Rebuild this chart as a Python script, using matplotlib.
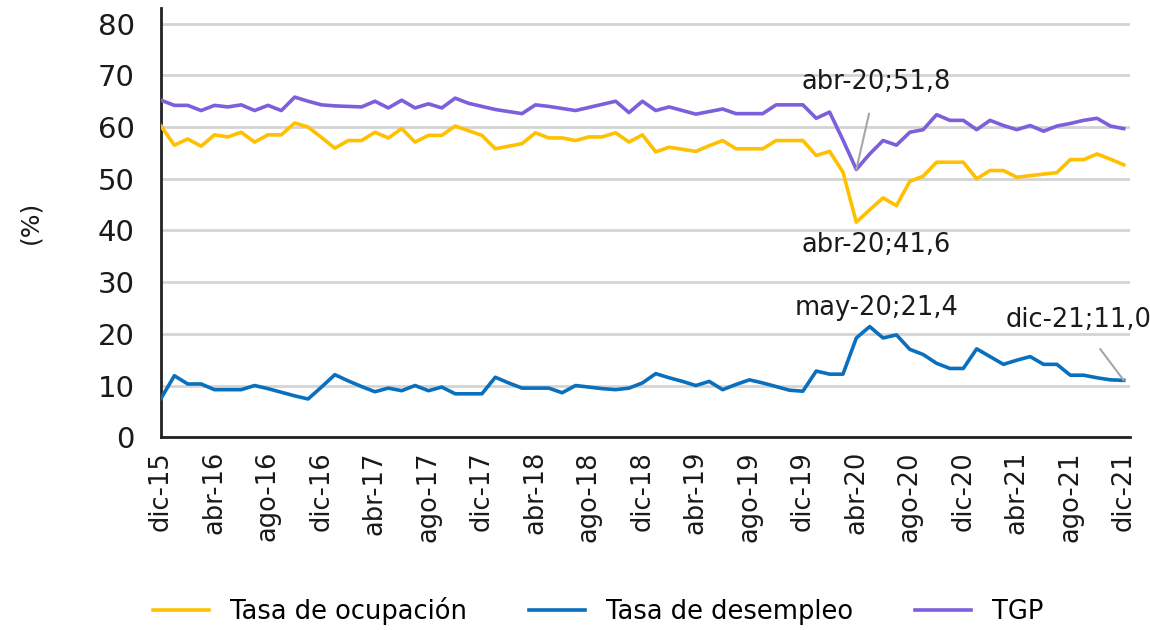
import matplotlib.pyplot as plt

# monthly series, dic-15 .. dic-21
month_names = ['ene', 'feb', 'mar', 'abr', 'may', 'jun',
               'jul', 'ago', 'set', 'oct', 'nov', 'dic']
labels = ['dic-15'] + [f'{m}-{y}' for y in range(16, 22) for m in month_names]

tgp = [65.2, 64.2, 64.2, 63.2, 64.2, 63.9, 64.3, 63.2, 64.2, 63.2,
       65.8, 65.0, 64.3, 64.1, 64.0, 63.9, 65.0, 63.7, 65.2, 63.7,
       64.5, 63.7, 65.6, 64.6, 64.0, 63.4, 63.0, 62.6, 64.3, 64.0,
       63.6, 63.2, 63.8, 64.4, 65.0, 62.8, 65.0, 63.2, 63.9, 63.2,
       62.5, 63.0, 63.5, 62.6, 62.6, 62.6, 64.3, 64.3, 64.3, 61.7,
       62.9, 57.5, 51.8, 54.8, 57.4, 56.5, 59.0, 59.5, 62.4, 61.3,
       61.3, 59.5, 61.3, 60.3, 59.5, 60.3, 59.2, 60.2, 60.7, 61.3,
       61.7, 60.2, 59.7]

ocupacion = [60.2, 56.5, 57.7, 56.3, 58.5, 58.1, 59.0, 57.1, 58.5, 58.5,
             60.8, 60.0, 58.0, 55.9, 57.4, 57.4, 59.0, 57.9, 59.7, 57.1,
             58.4, 58.4, 60.2, 59.3, 58.4, 55.8, 56.3, 56.8, 58.9, 57.9,
             57.9, 57.4, 58.1, 58.1, 58.9, 57.1, 58.5, 55.2, 56.1, 55.7,
             55.3, 56.4, 57.4, 55.8, 55.8, 55.8, 57.4, 57.4, 57.4, 54.5,
             55.3, 51.3, 41.6, 44.0, 46.3, 44.8, 49.5, 50.5, 53.2, 53.2,
             53.2, 50.0, 51.6, 51.6, 50.3, 50.6, 50.9, 51.2, 53.7, 53.7,
             54.8, 53.8, 52.7]

desempleo = [7.5, 11.9, 10.3, 10.3, 9.2, 9.2, 9.2, 10.0, 9.4, 8.7,
             8.0, 7.4, 9.7, 12.1, 10.9, 9.8, 8.8, 9.5, 9.0, 10.0,
             9.0, 9.7, 8.4, 8.4, 8.4, 11.6, 10.5, 9.5, 9.5, 9.5,
             8.6, 10.0, 9.7, 9.4, 9.2, 9.5, 10.5, 12.3, 11.5, 10.8,
             10.0, 10.8, 9.2, 10.2, 11.1, 10.5, 9.8, 9.1, 8.9, 12.8,
             12.2, 12.2, 19.2, 21.4, 19.2, 19.8, 17.0, 16.0, 14.3, 13.3,
             13.3, 17.1, 15.6, 14.1, 14.9, 15.6, 14.1, 14.1, 12.0, 12.0,
             11.5, 11.1, 11.0]

plt.rcParams['font.family'] = ['DejaVu Sans']

fig = plt.figure(figsize=(11.5, 6.3), dpi=100)
ax = fig.add_axes([0.140, 0.306, 0.843, 0.681])

x = list(range(len(labels)))
ax.plot(x, ocupacion, color='#FFC000', lw=2.6, label='Tasa de ocupación', zorder=3)
ax.plot(x, desempleo, color='#0A70BE', lw=2.6, label='Tasa de desempleo', zorder=3)
ax.plot(x, tgp, color='#7B5FDB', lw=2.6, label='TGP', zorder=3)

ax.set_xlim(0, 72.5)
ax.set_ylim(0, 83)
ax.set_yticks(range(0, 81, 10))
ax.set_xticks(x[::4])
ax.set_xticklabels(labels[::4], rotation=90, fontsize=18.5)
ax.tick_params(axis='y', labelsize=21, length=0, pad=19, labelcolor='#1a1a1a')
ax.tick_params(axis='x', length=0, pad=10, labelcolor='#1a1a1a')
ax.yaxis.grid(True, color='#d4d4d4', lw=2)
ax.set_axisbelow(True)
for s in ['top', 'right']:
    ax.spines[s].set_visible(False)
for s in ['left', 'bottom']:
    ax.spines[s].set_linewidth(2)
    ax.spines[s].set_color('#222222')
ax.set_ylabel('(%)', fontsize=18, labelpad=40, color='#1a1a1a')

# annotations
i_abr, i_may, i_end = 52, 53, 72
ax.annotate(f'abr-20;{tgp[i_abr]:.1f}'.replace('.', ','), xy=(i_abr, tgp[i_abr]),
            xytext=(i_abr + 1.5, 68.8), ha='center', va='center', fontsize=18.5,
            color='#1a1a1a',
            arrowprops=dict(arrowstyle='-', color='#a6a6a6', lw=1.5, shrinkA=12, shrinkB=0))
ax.text(i_abr + 1.5, 37.2, f'abr-20;{ocupacion[i_abr]:.1f}'.replace('.', ','),
        ha='center', va='center', fontsize=18.5, color='#1a1a1a')
ax.text(i_abr + 1.5, 25.0, f'may-20;{desempleo[i_may]:.1f}'.replace('.', ','),
        ha='center', va='center', fontsize=18.5, color='#1a1a1a')
ax.annotate(f'dic-21;{desempleo[i_end]:.1f}'.replace('.', ','), xy=(i_end, desempleo[i_end]),
            xytext=(68.6, 22.7), ha='center', va='center', fontsize=18.5,
            color='#1a1a1a',
            arrowprops=dict(arrowstyle='-', color='#a6a6a6', lw=1.5, shrinkA=12, shrinkB=0))

fig.legend(loc='center', bbox_to_anchor=(0.52, 0.03), ncol=3, frameon=False,
           fontsize=18.5, handlelength=2.2, columnspacing=2.4)

fig.savefig('out.png', dpi=100)
